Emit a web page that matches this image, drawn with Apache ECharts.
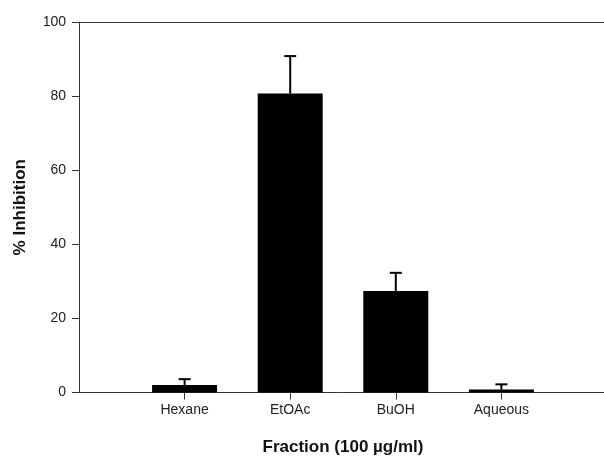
<!DOCTYPE html>
<html>
<head>
<meta charset="utf-8">
<script src="https://cdn.jsdelivr.net/npm/echarts@6/dist/echarts.min.js"></script>
<style>html,body{margin:0;padding:0;background:#fff;}#c{width:604px;height:456px;}</style>
</head>
<body>
<div id="c"></div>
<script>
var categories = ['', 'Hexane', 'EtOAc', 'BuOH', 'Aqueous', ''];
var means = [null, 2.0, 80.7, 27.4, 0.8, null];
var errors = [null, 1.6, 10.1, 4.9, 1.4, null];
var yTicks = [0, 20, 40, 60, 80, 100];

var chart = echarts.init(document.getElementById('c'), null, {renderer: 'canvas'});
var errData = [];
for (var i = 0; i < categories.length; i++) {
  if (means[i] != null) errData.push([i, means[i], means[i] + errors[i]]);
}
var axisColor = '#333';
chart.setOption({
  animation: false,
  backgroundColor: '#fff',
  grid: {left: 79, right: -3, top: 22, bottom: 63.5, containLabel: false, outerBoundsMode: 'none'},
  xAxis: [{
    type: 'category',
    data: categories,
    boundaryGap: false,
    axisLine: {lineStyle: {color: axisColor, width: 1}},
    axisTick: {show: true, length: 7, inside: false, lineStyle: {color: axisColor, width: 1},
      interval: function (idx) { return idx > 0 && idx < categories.length - 1; }},
    axisLabel: {color: '#222', fontFamily: 'Liberation Sans', fontSize: 14, margin: 11, interval: 0},
    splitLine: {show: false},
    name: 'Fraction (100 µg/ml)',
    nameLocation: 'middle',
    nameGap: 46,
    nameTextStyle: {color: '#111', fontFamily: 'Liberation Sans', fontWeight: 'bold', fontSize: 17}
  }, {
    type: 'category',
    data: categories,
    position: 'top',
    boundaryGap: false,
    axisLine: {show: true, lineStyle: {color: axisColor, width: 1}},
    axisTick: {show: false},
    axisLabel: {show: false}
  }],
  yAxis: {
    type: 'value',
    min: 0, max: 100, interval: 20,
    axisLine: {show: true, lineStyle: {color: axisColor, width: 1}},
    axisTick: {show: true, length: 7, lineStyle: {color: axisColor, width: 1}},
    axisLabel: {color: '#222', fontFamily: 'Liberation Sans', fontSize: 14, margin: 13,
      formatter: function (v) { return yTicks.indexOf(v) >= 0 ? String(v) : ''; }},
    splitLine: {show: false},
    name: '% Inhibition',
    nameLocation: 'middle',
    nameGap: 50,
    nameTextStyle: {color: '#111', fontFamily: 'Liberation Sans', fontWeight: 'bold', fontSize: 17}
  },
  series: [{
    type: 'bar',
    data: means,
    barWidth: 65,
    itemStyle: {color: '#000'},
    z: 2
  }, {
    type: 'custom',
    data: errData,
    z: 3,
    renderItem: function (params, api) {
      var x = api.value(0);
      var lo = api.coord([x, api.value(1)]);
      var hi = api.coord([x, api.value(2)]);
      var half = 6;
      return {
        type: 'group',
        children: [
          {type: 'line', shape: {x1: lo[0], y1: lo[1], x2: hi[0], y2: hi[1]}, style: {stroke: '#000', lineWidth: 2}},
          {type: 'line', shape: {x1: hi[0] - half, y1: hi[1], x2: hi[0] + half, y2: hi[1]}, style: {stroke: '#000', lineWidth: 2}}
        ]
      };
    }
  }]
});
</script>
</body>
</html>
